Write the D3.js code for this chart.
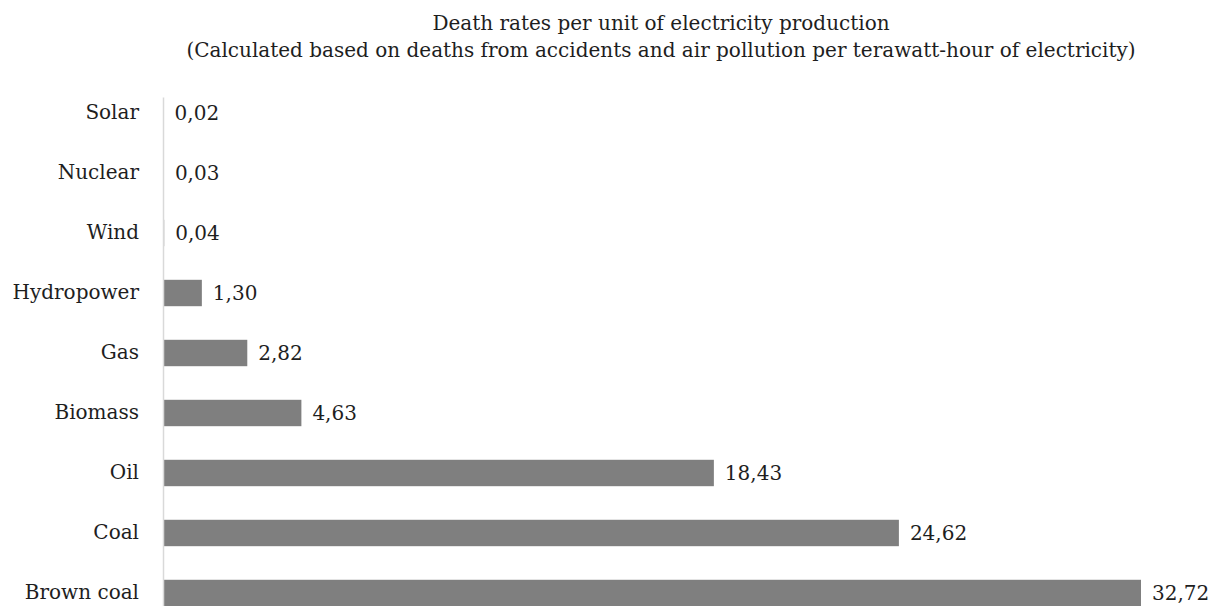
<!DOCTYPE html>
<html><head><meta charset="utf-8">
<script src="https://cdn.jsdelivr.net/npm/d3@7"></script>
<style>body{margin:0;background:#fff}text{font-family:"DejaVu Serif",serif;fill:#1e1e1e}</style>
</head><body>
<svg id="c" width="1220" height="606"></svg>
<script>
const categories = ["Solar","Nuclear","Wind","Hydropower","Gas","Biomass","Oil","Coal","Brown coal"];
const values = [0.02,0.03,0.04,1.30,2.82,4.63,18.43,24.62,32.72];
const valueLabels = ["0,02","0,03","0,04","1,30","2,82","4,63","18,43","24,62","32,72"];
const titleLines = ["Death rates per unit of electricity production","(Calculated based on deaths from accidents and air pollution per terawatt-hour of electricity)"];

const svg = d3.select("#c");
const x = d3.scaleLinear().domain([0, 32.72]).range([163, 1141]);
const y = d3.scaleBand().domain(categories).range([97, 609]).paddingInner(0.56).paddingOuter(0.047);

svg.selectAll("rect.bar").data(values).enter().append("rect")
  .attr("x", x(0)).attr("y", (d,i)=>y(categories[i]))
  .attr("width", d=>x(d)-x(0)).attr("height", y.bandwidth())
  .attr("fill", "#7f7f7f");

const ax = svg.append("g").attr("transform", `translate(${x(0)},0)`)
  .call(d3.axisLeft(y).tickSize(0).tickPadding(24));
ax.select(".domain").attr("stroke", "#d9d9d9").attr("stroke-width", 1.5);
ax.selectAll("text").style("font-family", '"DejaVu Serif",serif').style("font-size","20px").attr("fill","#1e1e1e");

svg.selectAll("text.val").data(values).enter().append("text")
  .attr("class","val")
  .attr("x", d=>x(d)+11).attr("y", (d,i)=>y(categories[i])+y.bandwidth()/2)
  .attr("dy","0.35em").style("font-size","20px")
  .text((d,i)=>valueLabels[i]);

svg.selectAll("text.title").data(titleLines).enter().append("text")
  .attr("class","title").attr("x", 661).attr("y",(d,i)=>30+i*27)
  .attr("text-anchor","middle").style("font-size","20px").text(d=>d);
</script>
</body></html>
